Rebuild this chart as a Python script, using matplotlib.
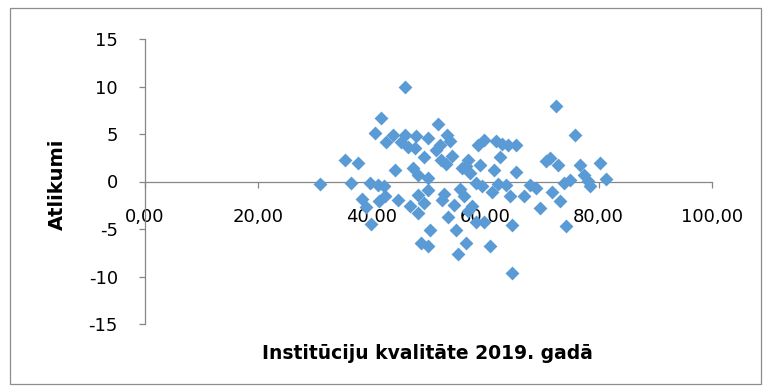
import matplotlib
matplotlib.use("Agg")
import matplotlib.pyplot as plt
from matplotlib.patches import Rectangle
from matplotlib.ticker import FuncFormatter, MultipleLocator

# Institutional quality index (2019) and regression residuals
quality = [30.9, 35.3, 36.3, 37.6, 38.3, 39.0, 39.7, 39.9, 40.6, 41.6,
           41.1, 41.3, 42.2, 42.5, 42.3, 43.7, 44.1, 44.6, 45.1, 45.9,
           45.9, 46.4, 46.7, 47.8, 47.6, 47.3, 48.1, 48.1, 48.1, 48.7,
           49.2, 49.2, 49.9, 49.9, 49.9, 49.9, 50.3, 51.3, 51.7, 52.0,
           52.2, 52.4, 52.7, 53.1, 53.3, 53.4, 53.8, 54.1, 54.5, 54.9,
           55.2, 55.6, 55.9, 56.3, 56.6, 56.6, 57.0, 57.0, 57.3, 57.7,
           58.4, 58.4, 58.7, 59.1, 59.4, 59.8, 59.8, 60.8, 61.2, 61.6,
           61.9, 62.3, 62.6, 63.0, 63.7, 64.0, 64.4, 64.7, 64.7, 65.4,
           65.4, 66.8, 67.9, 69.0, 69.7, 70.7, 71.4, 71.8, 72.5, 72.8,
           73.2, 73.9, 74.3, 75.0, 75.8, 76.7, 77.4, 78.1, 78.5, 80.2,
           81.3]
residuals = [-0.3, 2.3, -0.2, 1.9, -1.8, -2.7, -0.2, -4.5, 5.1, 6.7,
             -0.4, -2.0, -0.5, 4.2, -1.5, 4.9, 1.2, -1.9, 4.2, 10.0,
             4.9, 3.6, -2.6, 4.8, 3.5, 1.4, 0.7, -1.4, -3.3, -6.5,
             2.6, -2.3, 4.6, 0.4, -0.9, -6.8, -5.1, 3.3, 6.1, 3.8,
             2.3, -1.9, -1.3, 1.8, 4.9, -3.7, 4.3, 2.7, -2.5, -5.1,
             -7.6, -0.8, 1.4, -1.5, 1.6, -6.5, 2.3, -3.1, 0.9, -2.6,
             -0.2, -4.3, 3.8, 1.7, -0.5, 4.4, -4.3, -6.8, -1.1, 1.2,
             4.3, -0.3, 2.6, 4.0, -0.4, 3.8, -1.5, -9.6, -4.6, 3.8,
             1.0, -1.5, -0.4, -0.7, -2.8, 2.2, 2.5, -1.1, 7.9, 1.7,
             -2.0, -0.2, -4.7, 0.2, 4.9, 1.7, 0.7, 0.1, -0.5, 2.0,
             0.3]

x_label = "Institūciju kvalitāte 2019. gadā"
y_label = "Atlikumi"

W, H, DPI = 769, 392, 100
fig = plt.figure(figsize=(W / DPI, H / DPI), dpi=DPI)
fig.patch.set_facecolor("white")

# Chart-area frame
fig.patches.append(Rectangle((10 / W, 1 - 384 / H), 751 / W, 376 / H,
                             transform=fig.transFigure, fill=False,
                             edgecolor="#8c8c8c", linewidth=0.9))

ax = fig.add_axes([145 / W, 1 - 324 / H, 567 / W, 285 / H])
ax.scatter(quality, residuals, marker="D", s=50, color="#5B9BD5",
           linewidths=0, zorder=3)

ax.set_xlim(0, 100)
ax.set_ylim(-15, 15)
ax.xaxis.set_major_locator(MultipleLocator(20))
ax.yaxis.set_major_locator(MultipleLocator(5))
ax.xaxis.set_major_formatter(FuncFormatter(lambda v, p: f"{v:.2f}".replace(".", ",")))
ax.yaxis.set_major_formatter(FuncFormatter(lambda v, p: f"{v:.0f}"))

axis_color = "#868686"
for side in ("top", "right"):
    ax.spines[side].set_visible(False)
ax.spines["bottom"].set_position(("data", 0))
ax.spines["bottom"].set_color(axis_color)
ax.spines["left"].set_color(axis_color)
ax.spines["bottom"].set_linewidth(0.9)
ax.spines["left"].set_linewidth(0.9)

ax.tick_params(axis="x", direction="out", length=4.5, width=0.9,
               color=axis_color, pad=14.5, labelsize=13, labelcolor="black")
ax.tick_params(axis="y", direction="out", length=4.5, width=0.9,
               color=axis_color, pad=15, labelsize=13, labelcolor="black")

ax.text(0.499, -0.105, x_label, transform=ax.transAxes, ha="center",
        va="center", fontsize=13.5, fontweight="bold")
ax.text(-0.154, 0.49, y_label, transform=ax.transAxes, ha="center",
        va="center", rotation=90, fontsize=14, fontweight="bold")

fig.savefig("out.png", dpi=DPI)
